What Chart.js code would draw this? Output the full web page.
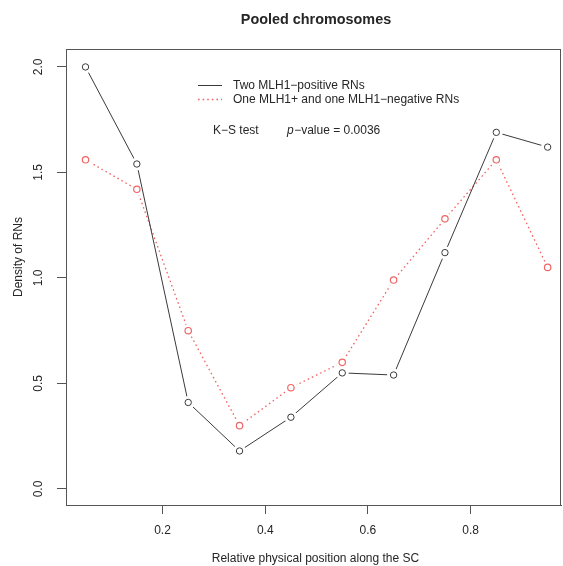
<!DOCTYPE html>
<html>
<head>
<meta charset="utf-8">
<script src="https://cdn.jsdelivr.net/npm/chart.js@4"></script>
<style>
html,body{margin:0;padding:0;background:#fff;}
#wrap{width:563px;height:566px;}
</style>
</head>
<body>
<div id="wrap"><canvas id="c" width="563" height="566"></canvas></div>
<script>
// ---- data ----
const positions = [0.05, 0.15, 0.25, 0.35, 0.45, 0.55, 0.65, 0.75, 0.85, 0.95];
const twoPositive = [2.00, 1.54, 0.41, 0.18, 0.34, 0.55, 0.54, 1.12, 1.69, 1.62];
const onePosOneNeg = [1.56, 1.42, 0.75, 0.30, 0.48, 0.60, 0.99, 1.28, 1.56, 1.05];
const xTicks = [0.2, 0.4, 0.6, 0.8];
const yTicks = [0.0, 0.5, 1.0, 1.5, 2.0];
const seriesNames = ['Two MLH1\u2212positive RNs', 'One MLH1+ and one MLH1\u2212negative RNs'];
const chartTitle = 'Pooled chromosomes';
const xTitle = 'Relative physical position along the SC';
const yTitle = 'Density of RNs';

const FONT = "'Liberation Sans', Arial, Helvetica, sans-serif";
const BLACK = '#3a3a3a';
const RED = '#f06464';
const AXIS = '#555555';
const TEXT = '#262626';

const toXY = vals => positions.map((x, i) => ({x: x, y: vals[i]}));

const gapPlugin = {
  id: 'gapPlugin',
  beforeDatasetDraw(chart, args) {
    const ds = chart.data.datasets[args.index];
    if (!ds.gapLine) return;
    const ctx = chart.ctx;
    ctx.save();
    ctx.beginPath();
    ctx.rect(0, 0, chart.width, chart.height);
    const r = 6.5;
    args.meta.data.forEach(p => {
      ctx.moveTo(p.x + r, p.y);
      ctx.arc(p.x, p.y, r, 0, Math.PI * 2);
    });
    ctx.clip('evenodd');
  },
  afterDatasetDraw(chart, args) {
    const ds = chart.data.datasets[args.index];
    if (!ds.gapLine) return;
    chart.ctx.restore();
  }
};

const decoPlugin = {
  id: 'deco',
  afterDraw(chart) {
    const ctx = chart.ctx;
    const a = chart.chartArea;
    ctx.save();
    // box
    ctx.strokeStyle = AXIS;
    ctx.lineWidth = 1;
    ctx.strokeRect(Math.round(a.left) + 0.5, Math.round(a.top) + 0.5,
                   Math.round(a.right - a.left) - 1, Math.round(a.bottom - a.top));
    ctx.fillStyle = TEXT;
    // title
    ctx.font = 'bold 14.4px ' + FONT;
    ctx.textAlign = 'center';
    ctx.textBaseline = 'middle';
    ctx.fillText(chartTitle, 316, 20);
    // y tick labels (rotated as in the reference)
    ctx.font = '12px ' + FONT;
    const ys = chart.scales.y;
    ys.ticks.forEach(t => {
      const py = ys.getPixelForValue(t.value);
      ctx.save();
      ctx.translate(39, py);
      ctx.rotate(-Math.PI / 2);
      ctx.fillText(t.value.toFixed(1), 0, 0);
      ctx.restore();
    });
    // y title
    ctx.save();
    ctx.translate(19, 257);
    ctx.rotate(-Math.PI / 2);
    ctx.fillText(yTitle, 0, 0);
    ctx.restore();
    // legend
    ctx.textAlign = 'left';
    ctx.strokeStyle = BLACK;
    ctx.lineWidth = 1;
    ctx.beginPath(); ctx.moveTo(198, 85.5); ctx.lineTo(222, 85.5); ctx.stroke();
    ctx.strokeStyle = RED;
    ctx.lineWidth = 1.3;
    ctx.setLineDash([1.6, 3]);
    ctx.beginPath(); ctx.moveTo(198, 99.5); ctx.lineTo(222, 99.5); ctx.stroke();
    ctx.setLineDash([]);
    ctx.fillStyle = TEXT;
    ctx.fillText(seriesNames[0], 233, 86);
    ctx.fillText(seriesNames[1], 233, 100);
    // K-S annotation
    ctx.fillText('K\u2212S test', 213, 131);
    ctx.font = 'italic 12px ' + FONT;
    ctx.fillText('p', 287, 131);
    const pw = ctx.measureText('p').width;
    ctx.font = '12px ' + FONT;
    ctx.fillText('\u2212value = 0.0036', 287 + pw + 0.5, 131);
    // x title
    ctx.textAlign = 'center';
    ctx.fillText(xTitle, (a.left + a.right) / 2 + 2, 559);
    ctx.restore();
  }
};

new Chart(document.getElementById('c'), {
  type: 'line',
  data: {
    datasets: [
      {label: seriesNames[0] + ' line', data: toXY(twoPositive), gapLine: true,
       borderColor: BLACK, borderWidth: 1, pointRadius: 0, fill: false, tension: 0},
      {label: seriesNames[0], data: toXY(twoPositive), showLine: false,
       borderColor: BLACK, pointBorderColor: BLACK, pointBackgroundColor: 'rgba(0,0,0,0)',
       pointRadius: 3.2, pointBorderWidth: 1},
      {label: seriesNames[1] + ' line', data: toXY(onePosOneNeg), gapLine: true,
       borderColor: RED, borderWidth: 1.3, borderDash: [1.6, 3], pointRadius: 0, fill: false, tension: 0},
      {label: seriesNames[1], data: toXY(onePosOneNeg), showLine: false,
       borderColor: RED, pointBorderColor: RED, pointBackgroundColor: 'rgba(0,0,0,0)',
       pointRadius: 3.2, pointBorderWidth: 1.2}
    ]
  },
  options: {
    responsive: false,
    animation: false,
    layout: {autoPadding: false, padding: {top: 49, right: 2, left: 0, bottom: 0}},
    plugins: {legend: {display: false}, tooltip: {enabled: false}, title: {display: false}},
    scales: {
      x: {
        type: 'linear', position: 'bottom', min: 0.012, max: 0.976,
        afterBuildTicks: s => { s.ticks = xTicks.map(v => ({value: v})); },
        afterFit: s => { s.height = 61; },
        grid: {display: true, drawOnChartArea: false, drawTicks: true, tickLength: 9, color: AXIS, lineWidth: 1},
        border: {display: true, color: AXIS, width: 1},
        ticks: {color: TEXT, font: {family: FONT, size: 12}, padding: 9, maxRotation: 0,
                callback: v => v.toFixed(1)},
        title: {display: false}
      },
      y: {
        type: 'linear', position: 'left', min: -0.076, max: 2.085,
        afterBuildTicks: s => { s.ticks = yTicks.map(v => ({value: v})); },
        afterFit: s => { s.width = 66; },
        grid: {display: true, drawOnChartArea: false, drawTicks: true, tickLength: 9, color: AXIS, lineWidth: 1},
        border: {display: true, color: AXIS, width: 1},
        ticks: {color: 'rgba(0,0,0,0)', font: {family: FONT, size: 12}, padding: 4,
                callback: v => v.toFixed(1)}
      }
    }
  },
  plugins: [gapPlugin, decoPlugin]
});
</script>
</body>
</html>
